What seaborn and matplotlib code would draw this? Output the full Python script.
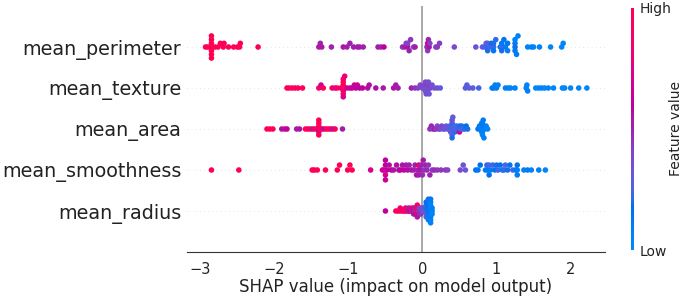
import numpy as np
import pandas as pd
import matplotlib
matplotlib.use("Agg")
import matplotlib.pyplot as plt
import seaborn as sns
from matplotlib.colors import ListedColormap, Normalize
from matplotlib.cm import ScalarMappable

# ---------------- data (top row to bottom row) ----------------
features = ["mean_perimeter", "mean_texture", "mean_area", "mean_smoothness", "mean_radius"]

perimeter_shap = [
    -2.93, -2.90, -2.85, -2.85, -2.85, -2.85, -2.85, -2.85, -2.85, -2.80,
    -2.76, -2.73, -2.69, -2.68, -2.62, -2.55, -2.50, -2.47, -2.46, -2.22,
    -1.40, -1.38, -1.36, -1.23, -1.07, -1.02, -0.98, -0.93, -0.88, -0.85,
    -0.80, -0.60, -0.56, -0.52,
    -0.27, -0.24, -0.22, -0.20, -0.20, -0.18, -0.16, -0.12, -0.10, 0.06,
    0.07, 0.07, 0.08, 0.09, 0.10, 0.18, 0.20, 0.23,
    0.43, 0.72, 0.81, 0.84, 0.86, 0.88, 0.88, 0.88, 0.91, 0.93,
    0.96, 0.96, 0.96, 0.99, 1.05, 1.07, 1.07, 1.07, 1.10, 1.12,
    1.15, 1.15, 1.25, 1.25, 1.25, 1.25, 1.27, 1.29, 1.42, 1.47,
    1.50, 1.58, 1.73, 1.88, 1.90,
]
perimeter_val = [
    0.98, 0.97, 1.00, 0.99, 0.98, 1.00, 0.97, 0.99, 1.00, 0.96,
    0.98, 0.95, 0.97, 0.99, 0.96, 0.98, 0.95, 0.97, 0.99, 0.98,
    0.52, 0.50, 0.54, 0.50, 0.53, 0.51, 0.50, 0.52, 0.50, 0.53,
    0.51, 0.52, 0.50, 0.60,
    0.45, 0.50, 0.42, 0.55, 0.40, 0.50, 0.44, 0.38, 0.52, 0.45,
    0.68, 0.42, 0.50, 0.55, 0.40, 0.38, 0.44, 0.42,
    0.38, 0.32, 0.28, 0.24, 0.26, 0.20, 0.28, 0.19, 0.24, 0.17,
    0.22, 0.19, 0.14, 0.21, 0.17, 0.24, 0.12, 0.19, 0.14, 0.10,
    0.14, 0.08, 0.19, 0.10, 0.12, 0.06, 0.10, 0.08, 0.05, 0.07,
    0.06, 0.04, 0.05, 0.03, 0.04,
]

texture_shap = [
    -1.83, -1.80, -1.76, -1.72, -1.68, -1.62, -1.40, -1.37, -1.34, -1.22,
    -1.18, -1.15, -1.10, -1.08, -1.07, -1.07, -1.07, -1.07, -1.07, -1.07,
    -1.05, -1.02, -0.98, -0.95, -0.92, -0.90, -0.88, -0.85, -0.81, -0.74,
    -0.72, -0.63, -0.53, -0.39, -0.36, -0.33,
    -0.15, -0.10, -0.06, -0.03, 0.00, 0.02, 0.03, 0.04, 0.04, 0.05,
    0.06, 0.07, 0.07, 0.08, 0.09, 0.11, 0.13, 0.16, 0.20, 0.24,
    0.58, 0.60, 0.63, 0.68, 0.76, 0.94, 0.96, 0.98, 1.00, 1.02,
    1.12, 1.16, 1.19, 1.25, 1.40, 1.41, 1.42, 1.53, 1.57, 1.61,
    1.65, 1.70, 1.77, 1.89, 1.92, 2.00, 2.11, 2.22,
]
texture_val = [
    0.95, 0.92, 0.97, 0.90, 0.93, 0.96, 0.88, 0.68, 0.95, 0.90,
    0.75, 0.93, 0.85, 0.90, 0.97, 0.78, 0.95, 0.88, 0.92, 0.72,
    0.80, 0.68, 0.65, 0.62, 0.66, 0.60, 0.64, 0.60, 0.62, 0.58,
    0.56, 0.57, 0.54, 0.55, 0.53, 0.52,
    0.50, 0.45, 0.40, 0.38, 0.36, 0.34, 0.40, 0.32, 0.38, 0.36,
    0.31, 0.40, 0.34, 0.36, 0.32, 0.38, 0.34, 0.31, 0.36, 0.29,
    0.28, 0.26, 0.30, 0.28, 0.24, 0.10, 0.12, 0.08, 0.10, 0.06,
    0.08, 0.10, 0.06, 0.07, 0.05, 0.06, 0.08, 0.04, 0.05, 0.06,
    0.03, 0.05, 0.04, 0.03, 0.05, 0.02, 0.03, 0.02,
]

area_shap = [
    -2.10, -2.06, -2.02, -1.90, -1.86, -1.83, -1.70, -1.66, -1.58, -1.55,
    -1.52, -1.49, -1.46, -1.43, -1.40, -1.40, -1.40, -1.40, -1.40, -1.40,
    -1.38, -1.36, -1.33, -1.30, -1.27, -1.24, -1.21, -1.18, -1.08,
    0.10, 0.12, 0.14, 0.16, 0.18, 0.20, 0.22, 0.24, 0.26, 0.28,
    0.30, 0.32, 0.34, 0.36, 0.37, 0.38, 0.39,
    0.40, 0.40, 0.40, 0.40, 0.40, 0.40,
    0.41, 0.42, 0.43, 0.44, 0.45, 0.46, 0.48,
    0.50, 0.50, 0.51, 0.53, 0.55, 0.57, 0.59, 0.61,
    0.75, 0.77, 0.78, 0.79, 0.80, 0.80,
    0.81, 0.81, 0.81, 0.81, 0.81,
    0.82, 0.83, 0.84, 0.86, 0.88,
]
area_val = [
    1.00, 0.98, 0.97, 0.58, 0.55, 0.62, 0.52, 0.55, 0.97, 0.95,
    0.98, 0.52, 0.96, 0.94, 0.99, 0.97, 0.55, 0.95, 1.00, 0.98,
    0.96, 0.93, 0.58, 0.97, 0.95, 0.98, 0.55, 0.94, 0.52,
    0.45, 0.50, 0.40, 0.55, 0.42, 0.38, 0.46, 0.36, 0.40, 0.34,
    0.32, 0.28, 0.34, 0.26, 0.30, 0.28, 0.25,
    0.23, 0.28, 0.20, 0.26, 0.32, 0.19,
    0.28, 0.23, 0.26, 0.20, 0.28, 0.24, 0.22,
    0.20, 0.68, 0.23, 0.19, 0.26, 0.20, 0.17, 0.19,
    0.12, 0.10, 0.14, 0.08, 0.10, 0.12,
    0.06, 0.10, 0.08, 0.12, 0.05,
    0.10, 0.07, 0.08, 0.06, 0.05,
]

smoothness_shap = [
    -2.85, -2.48, -1.49, -1.46, -1.42, -1.31, -1.15, -1.12, -1.01, -0.98,
    -0.95, -0.70,
    -0.54, -0.52, -0.50, -0.50, -0.50, -0.50, -0.48, -0.45, -0.42, -0.39,
    -0.35, -0.32, -0.30, -0.27, -0.25, -0.22, -0.20, -0.18, -0.15, -0.12,
    -0.10, -0.08, -0.06, -0.05, -0.05, -0.03, -0.02, 0.00, 0.01, 0.02,
    0.04, 0.06, 0.08, 0.10, 0.13, 0.16, 0.20, 0.25, 0.31, 0.34,
    0.51, 0.55, 0.58, 0.72, 0.75, 0.78, 0.85, 0.87, 0.88, 0.90,
    0.90, 0.92, 0.95, 0.98, 1.00, 1.02, 1.05, 1.08, 1.10, 1.12,
    1.15, 1.18, 1.22, 1.26, 1.28, 1.28, 1.28, 1.37, 1.42, 1.47,
    1.57, 1.66,
]
smoothness_val = [
    1.00, 0.98, 0.97, 0.99, 0.96, 0.98, 0.97, 0.99, 0.96, 0.98,
    0.97, 0.72,
    0.68, 0.66, 0.63, 0.70, 0.60, 0.66, 0.62, 0.57, 0.60, 0.55,
    0.57, 0.53, 0.60, 0.55, 0.63, 0.53, 0.57, 0.50, 0.55, 0.53,
    0.51, 0.57, 0.50, 0.78, 0.53, 0.55, 0.50, 0.47, 0.53, 0.45,
    0.50, 0.47, 0.45, 0.50, 0.43, 0.47, 0.45, 0.43, 0.45, 0.40,
    0.36, 0.34, 0.32, 0.15, 0.12, 0.18, 0.10, 0.20, 0.12, 0.24,
    0.15, 0.10, 0.21, 0.15, 0.19, 0.24, 0.17, 0.12, 0.21, 0.26,
    0.19, 0.15, 0.24, 0.12, 0.08, 0.15, 0.10, 0.08, 0.10, 0.06,
    0.08, 0.05,
]

radius_shap = [
    -0.50,
    -0.36, -0.33, -0.30, -0.30, -0.27, -0.25, -0.23, -0.23,
    -0.20, -0.19, -0.19, -0.17, -0.15, -0.15, -0.13, -0.12, -0.12, -0.12,
    -0.10, -0.10, -0.10, -0.08, -0.07, -0.07, -0.07, -0.07, -0.07, -0.05,
    -0.04, -0.04, -0.04, -0.02, -0.02, -0.02, 0.00, 0.00, 0.02, 0.02,
    0.04, 0.04, 0.05, 0.05, 0.05, 0.05, 0.05, 0.05, 0.08, 0.08,
    0.08, 0.08, 0.08, 0.08, 0.08, 0.08, 0.11, 0.11, 0.11, 0.11,
    0.11, 0.11, 0.11, 0.11, 0.11, 0.13, 0.13, 0.13,
]
radius_val = [
    0.60,
    0.95, 0.90, 0.97, 0.85, 0.92, 0.80, 0.95, 0.88,
    0.55, 0.85, 0.50, 0.68, 0.52, 0.90, 0.48, 0.55, 0.72, 0.50,
    0.45, 0.50, 0.57, 0.44, 0.97, 0.95, 0.98, 0.90, 0.55, 0.40,
    0.45, 0.38, 0.50, 0.40, 0.36, 0.44, 0.34, 0.38, 0.32, 0.36,
    0.28, 0.32, 0.24, 0.19, 0.26, 0.21, 0.28, 0.17, 0.15, 0.19,
    0.12, 0.17, 0.10, 0.15, 0.08, 0.19, 0.10, 0.08, 0.12, 0.06,
    0.10, 0.05, 0.08, 0.12, 0.06, 0.04, 0.08, 0.05,
]

row_shap = [perimeter_shap, texture_shap, area_shap, smoothness_shap, radius_shap]
row_val = [perimeter_val, texture_val, area_val, smoothness_val, radius_val]


# ---------------- SHAP red-blue colormap (LCH interpolation) ----------------
def lch_to_rgb(L, C, H):
    a = C * np.cos(H)
    b = C * np.sin(H)
    fy = (L + 16) / 116
    fx = fy + a / 500
    fz = fy - b / 200

    def finv(t):
        return np.where(t > 6 / 29, t ** 3, 3 * (6 / 29) ** 2 * (t - 4 / 29))

    xyz = np.array([0.95047 * finv(fx), finv(fy), 1.08883 * finv(fz)])
    M = np.array([[3.2406, -1.5372, -0.4986],
                  [-0.9689, 1.8758, 0.0415],
                  [0.0557, -0.2040, 1.0570]])
    lin = M @ xyz
    rgb = np.where(lin > 0.0031308, 1.055 * np.abs(lin) ** (1 / 2.4) - 0.055, 12.92 * lin)
    return np.clip(rgb, 0, 1)


blue_lch = [54.0, 70.0, 4.6588]
red_lch = [54.0, 90.0, 0.35470565 + 2 * np.pi]
l_mid = 40.0
nsteps = 100
l_vals = list(np.linspace(blue_lch[0], l_mid, nsteps // 2)) + list(np.linspace(l_mid, red_lch[0], nsteps // 2))
c_vals = np.linspace(blue_lch[1], red_lch[1], nsteps)
h_vals = np.linspace(blue_lch[2], red_lch[2], nsteps)
shap_cmap = ListedColormap([lch_to_rgb(l, c, h) for l, c, h in zip(l_vals, c_vals, h_vals)])


# ---------------- beeswarm layout (as in shap.summary_plot) ----------------
def beeswarm_offsets(shaps, row_height=0.4, nbins=100):
    shaps = np.asarray(shaps, float)
    quant = np.round(nbins * (shaps - shaps.min()) / (shaps.max() - shaps.min() + 1e-8))
    inds = np.argsort(quant, kind="stable")
    layer, last_bin = 0, -1
    ys = np.zeros(len(shaps))
    for ind in inds:
        if quant[ind] != last_bin:
            layer = 0
        ys[ind] = np.ceil(layer / 2) * ((layer % 2) * 2 - 1)
        layer += 1
        last_bin = quant[ind]
    ys *= 0.9 * (row_height / np.max(ys + 1))
    return ys


frames = []
n = len(features)
for i, (feat, s, v) in enumerate(zip(features, row_shap, row_val)):
    pos = n - 1 - i
    frames.append(pd.DataFrame({
        "feature": feat,
        "shap": s,
        "value": v,
        "ypos": pos + beeswarm_offsets(s),
    }))
df = pd.concat(frames, ignore_index=True)

# ---------------- figure ----------------
sns.set_style("white")
plt.rcParams["font.family"] = ["DejaVu Sans"]

W, H = 685, 299
fig = plt.figure(figsize=(W / 100, H / 100), dpi=100)
ax = fig.add_axes([187 / W, 47 / H, 418 / W, 246 / H])

for pos in range(n):
    ax.axhline(pos, color="#cccccc", lw=0.5, dashes=(1, 5), zorder=-1)
ax.axvline(0, color="#999999", lw=1.2, zorder=-1)

sns.scatterplot(data=df, x="shap", y="ypos", hue="value", palette=shap_cmap,
                hue_norm=(0, 1), s=16, linewidth=0, alpha=1, legend=False,
                ax=ax, zorder=3)

ax.set_xlim(-3.18, 2.465)
ax.set_ylim(-1, n)
ax.set_yticks(range(n))
ax.set_yticklabels(features[::-1], fontsize=13.8, color="#222222")
ax.set_xticks([-3, -2, -1, 0, 1, 2])
ax.tick_params(axis="x", labelsize=10.5, length=4, color="#333333", labelcolor="#222222", pad=3)
ax.tick_params(axis="y", length=0, pad=4)
ax.set_xlabel("SHAP value (impact on model output)", fontsize=12, labelpad=1, color="#222222")
ax.set_ylabel("")
for side in ["left", "top", "right"]:
    ax.spines[side].set_visible(False)
ax.spines["bottom"].set_color("#333333")

cax = fig.add_axes([631 / W, 49 / H, 3.2 / W, 242 / H])
sm = ScalarMappable(norm=Normalize(0, 1), cmap=shap_cmap)
cb = fig.colorbar(sm, cax=cax, ticks=[0, 1])
cb.set_ticklabels(["Low", "High"])
cb.ax.tick_params(labelsize=10, length=0, pad=4, labelcolor="#222222")
cb.set_label("Feature value", size=10, labelpad=-2, color="#222222")
cb.outline.set_visible(False)

fig.savefig("out.png", dpi=100)
